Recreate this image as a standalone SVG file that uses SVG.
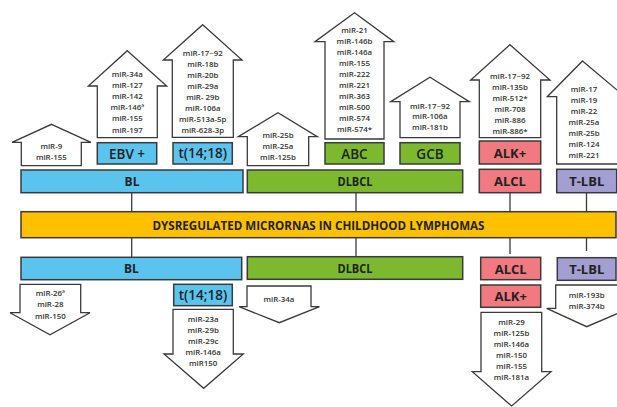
<svg xmlns="http://www.w3.org/2000/svg" width="617" height="407" viewBox="0 0 617 407">
<style>
.arr{fill:#fff;stroke:#3a3a3a;stroke-width:1.3;stroke-linejoin:miter}
.mi{font-family:"Open Sans","Liberation Sans",sans-serif;font-size:7.9px;font-weight:600;fill:#333;text-anchor:middle;dominant-baseline:central}
.box{stroke:#3a3a3a;stroke-width:1.5}
.bl{fill:#5BC4EE}.dl{fill:#7CB92F}.al{fill:#F07A7F}.tl{fill:#A39FD2}.mn{fill:#FFC000}
.lb{font-family:"Open Sans","Liberation Sans",sans-serif;font-weight:bold;fill:#222;text-anchor:middle;dominant-baseline:central}
.sub{font-family:"Open Sans","Liberation Sans",sans-serif;font-weight:600;fill:#222;text-anchor:middle;dominant-baseline:central;font-size:13.5px}
.ln{stroke:#3a3a3a;stroke-width:1.3;fill:none}
</style>
<g id="connectors">
<line class="ln" x1="131.7" y1="192.7" x2="131.7" y2="211.7"/>
<line class="ln" x1="131.7" y1="237.7" x2="131.7" y2="257.3"/>
<line class="ln" x1="356" y1="192.7" x2="356" y2="211.7"/>
<line class="ln" x1="356" y1="237.7" x2="356" y2="256.7"/>
<line class="ln" x1="510" y1="192.7" x2="510" y2="211.7"/>
<line class="ln" x1="510" y1="237.7" x2="510" y2="254"/>
<line class="ln" x1="586.5" y1="192.7" x2="586.5" y2="211.7"/>
<line class="ln" x1="586.5" y1="237.7" x2="586.5" y2="251"/>
</g>
<g id="main">
<rect class="box mn" x="21" y="211.7" width="595" height="26"/>
<text class="lb" x="318.5" y="225" font-size="12.5" font-weight="600" textLength="332" lengthAdjust="spacingAndGlyphs">DYSREGULATED MICRORNAS IN CHILDHOOD LYMPHOMAS</text>
</g>
<g id="bl-top">
<rect class="box bl" x="21" y="170" width="222" height="22.7"/>
<text class="lb" x="132" y="181.5" font-size="12">BL</text>
</g>
<g id="dlbcl-top">
<rect class="box dl" x="247.3" y="170" width="215.4" height="22.7"/>
<text class="lb" x="355" y="181.5" font-size="12" textLength="35" lengthAdjust="spacingAndGlyphs">DLBCL</text>
</g>
<g id="alcl-top">
<rect class="box al" x="479.3" y="169.3" width="61.4" height="23.4"/>
<text class="lb" x="510" y="181.2" font-size="13">ALCL</text>
</g>
<g id="tlbl-top">
<rect class="box tl" x="556.7" y="169.3" width="60" height="23.4"/>
<text class="lb" x="586.7" y="181.2" font-size="13">T-LBL</text>
</g>
<g id="ebv">
<rect class="box bl" x="97.3" y="142.7" width="59.4" height="21.3"/>
<text class="sub" x="127" y="153.5">EBV +</text>
</g>
<g id="t1418-top">
<rect class="box bl" x="173" y="142.7" width="59.3" height="21.3"/>
<text class="sub" x="202.7" y="153.3" font-weight="bold" font-size="14">t(14;18)</text>
</g>
<g id="abc">
<rect class="box dl" x="325" y="142.7" width="59" height="21.3"/>
<text class="sub" x="354.5" y="153.5">ABC</text>
</g>
<g id="gcb">
<rect class="box dl" x="400" y="142.7" width="60" height="21.3"/>
<text class="sub" x="430" y="153.5">GCB</text>
</g>
<g id="alk-top">
<rect class="box al" x="479.3" y="141" width="61.4" height="23"/>
<text class="lb" x="510" y="152.7" font-size="13">ALK+</text>
</g>
<g id="bl-bottom">
<rect class="box bl" x="21" y="257.3" width="220.7" height="22.4"/>
<text class="lb" x="131.3" y="268.7" font-size="12">BL</text>
</g>
<g id="dlbcl-bottom">
<rect class="box dl" x="247.3" y="256.7" width="215.4" height="22.6"/>
<text class="lb" x="355" y="268.2" font-size="12" textLength="35" lengthAdjust="spacingAndGlyphs">DLBCL</text>
</g>
<g id="alcl-bottom">
<rect class="box al" x="480.7" y="257.3" width="60" height="22.4"/>
<text class="lb" x="510.7" y="268.7" font-size="13">ALCL</text>
</g>
<g id="alk-bottom">
<rect class="box al" x="480.7" y="285" width="60" height="22.3"/>
<text class="lb" x="510.7" y="296.3" font-size="13">ALK+</text>
</g>
<g id="tlbl-bottom">
<rect class="box tl" x="557.3" y="257.7" width="58.7" height="22.6"/>
<text class="lb" x="586.7" y="269.2" font-size="13">T-LBL</text>
</g>
<g id="t1418-bottom">
<rect class="box bl" x="173.7" y="284.3" width="58.6" height="21.4"/>
<text class="sub" x="203" y="295" font-weight="bold" font-size="14">t(14;18)</text>
</g>
<g id="up-bl">
<path class="arr" d="M51.5,124.3 L91,142.3 L81.3,142.3 L81.3,165.7 L21.3,165.7 L21.3,142.3 L12,142.3 Z"/>
<text class="mi" x="51.3" y="145.7">miR-9</text>
<text class="mi" x="51.3" y="156.5">miR-155</text>
</g>
<g id="up-ebv">
<path class="arr" d="M127.3,50.7 L166.7,86 L157.3,86 L157.3,137.7 L97.3,137.7 L97.3,86 L88.3,86 Z"/>
<text class="mi" x="127.3" y="74">miR-34a</text>
<text class="mi" x="127.3" y="85.1">miR-127</text>
<text class="mi" x="127.3" y="96.2">miR-142</text>
<text class="mi" x="127.3" y="107.3">miR-146ª</text>
<text class="mi" x="127.3" y="118.4">miR-155</text>
<text class="mi" x="127.3" y="129.5">miR-197</text>
</g>
<g id="up-t1418">
<path class="arr" d="M202.7,24.7 L242,60 L233.3,60 L233.3,137.3 L172.3,137.3 L172.3,60 L163.3,60 Z"/>
<text class="mi" x="202.8" y="52.7">miR-17~92</text>
<text class="mi" x="202.8" y="63.8">miR-18b</text>
<text class="mi" x="202.8" y="74.9">miR-20b</text>
<text class="mi" x="202.8" y="86">miR-29a</text>
<text class="mi" x="202.8" y="97.1">miR- 29b</text>
<text class="mi" x="202.8" y="108.2">miR-106a</text>
<text class="mi" x="202.8" y="119.3">miR-513a-5p</text>
<text class="mi" x="202.8" y="130.4">miR-628-3p</text>
</g>
<g id="up-dlbcl">
<path class="arr" d="M278,112.7 L317.3,136.7 L308.7,136.7 L308.7,165.7 L247.3,165.7 L247.3,136.7 L238.3,136.7 Z"/>
<text class="mi" x="278" y="135.2">miR-25b</text>
<text class="mi" x="278" y="146">miR-25a</text>
<text class="mi" x="278" y="156.8">miR-125b</text>
</g>
<g id="up-abc">
<path class="arr" d="M354.5,12.7 L393.8,41.7 L384,41.7 L384,139 L325,139 L325,41.7 L315,41.7 Z"/>
<text class="mi" x="354.5" y="30">miR-21</text>
<text class="mi" x="354.5" y="41">miR-146b</text>
<text class="mi" x="354.5" y="52">miR-146a</text>
<text class="mi" x="354.5" y="63">miR-155</text>
<text class="mi" x="354.5" y="74">miR-222</text>
<text class="mi" x="354.5" y="85">miR-221</text>
<text class="mi" x="354.5" y="96">miR-363</text>
<text class="mi" x="354.5" y="107">miR-500</text>
<text class="mi" x="354.5" y="118">miR-574</text>
<text class="mi" x="354.5" y="129">miR-574*</text>
</g>
<g id="up-gcb">
<path class="arr" d="M430,77.3 L469.3,101.7 L460,101.7 L460,137.7 L400,137.7 L400,101.7 L390.7,101.7 Z"/>
<text class="mi" x="430" y="105.5">miR-17~92</text>
<text class="mi" x="430" y="116.2">miR-106a</text>
<text class="mi" x="430" y="126.9">miR-181b</text>
</g>
<g id="up-alk">
<path class="arr" d="M510,44.7 L550,80 L540.7,80 L540.7,137.7 L479.3,137.7 L479.3,80 L470.7,80 Z"/>
<text class="mi" x="510" y="75.5">miR-17~92</text>
<text class="mi" x="510" y="86.5">miR-135b</text>
<text class="mi" x="510" y="97.5">miR-512*</text>
<text class="mi" x="510" y="108.5">miR-708</text>
<text class="mi" x="510" y="119.5">miR-886</text>
<text class="mi" x="510" y="130.5">miR-886*</text>
</g>
<g id="up-tlbl">
<path class="arr" d="M582.5,61 L625,96.7 L620,96.7 L620,164 L556.7,164 L556.7,96.7 L547.3,96.7 Z"/>
<text class="mi" x="584" y="88.5">miR-17</text>
<text class="mi" x="584" y="99.5">miR-19</text>
<text class="mi" x="584" y="110.5">miR-22</text>
<text class="mi" x="584" y="121.5">miR-25a</text>
<text class="mi" x="584" y="132.5">miR-25b</text>
<text class="mi" x="584" y="143.5">miR-124</text>
<text class="mi" x="584" y="154.5">miR-221</text>
</g>
<g id="down-bl">
<path class="arr" d="M20,284.3 L80.7,284.3 L80.7,312.7 L90,312.7 L50,334.7 L10,312.7 L20,312.7 Z"/>
<text class="mi" x="50.3" y="293.3">miR-26ª</text>
<text class="mi" x="50.3" y="304.3">miR-28</text>
<text class="mi" x="50.3" y="315.5">miR-150</text>
</g>
<g id="down-t1418">
<path class="arr" d="M173,309.3 L233.3,309.3 L233.3,354 L243.3,354 L203.7,388.3 L164,354 L173,354 Z"/>
<text class="mi" x="203.2" y="318.7">miR-23a</text>
<text class="mi" x="203.2" y="329.8">miR-29b</text>
<text class="mi" x="203.2" y="340.9">miR-29c</text>
<text class="mi" x="203.2" y="352">miR-146a</text>
<text class="mi" x="203.2" y="363.1">miR150</text>
</g>
<g id="down-dlbcl">
<path class="arr" d="M247,286 L311,286 L311,306.7 L319.5,306.7 L279.3,322.7 L239,306.7 L247,306.7 Z"/>
<text class="mi" x="279" y="298.5">miR-34a</text>
</g>
<g id="down-alk">
<path class="arr" d="M481,312.3 L541.7,312.3 L541.7,371.7 L551,371.7 L511.7,406 L472.3,371.7 L481,371.7 Z"/>
<text class="mi" x="511.5" y="321.7">miR-29</text>
<text class="mi" x="511.5" y="332.7">miR-125b</text>
<text class="mi" x="511.5" y="343.7">miR-146a</text>
<text class="mi" x="511.5" y="354.7">miR-150</text>
<text class="mi" x="511.5" y="365.7">miR-155</text>
<text class="mi" x="511.5" y="376.7">miR-181a</text>
</g>
<g id="down-tlbl">
<path class="arr" d="M555.7,285 L625,285 L625,308.3 L630,308.3 L586.7,326.7 L546.7,308.3 L555.7,308.3 Z"/>
<text class="mi" x="586.7" y="295">miR-193b</text>
<text class="mi" x="586.7" y="306">miR-374b</text>
</g>
</svg>
